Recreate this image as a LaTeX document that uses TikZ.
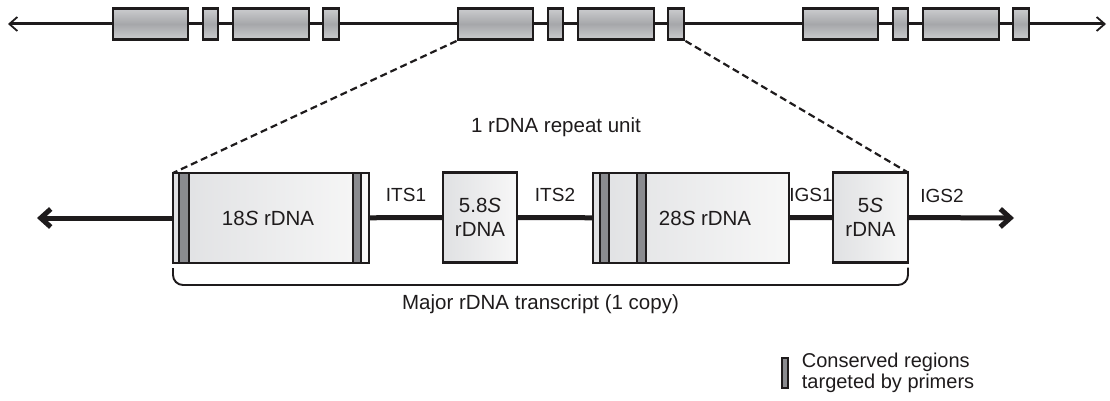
\documentclass[tikz,border=0pt]{standalone}
\usepackage{fontspec}
\setmainfont{Liberation Sans}
\usepackage{tikz}
\usetikzlibrary{arrows.meta,positioning}
\usepackage{xcolor}
\definecolor{rdink}{RGB}{30,27,28}
\definecolor{rdtop}{RGB}{203,204,206}
\definecolor{rdmid}{RGB}{166,167,170}
\definecolor{rdlight}{RGB}{224,225,227}
\definecolor{rdpale}{RGB}{247,247,247}
\definecolor{rdstripe}{RGB}{138,139,143}
\tikzstyle{backbone} = [line width=3pt, color=rdink, {Straight Barb[length=8pt,width=14pt,line width=1.8pt]}-{Straight Barb[length=8pt,width=14pt,line width=1.8pt]}]
\tikzstyle{topbox} = [rectangle, draw=rdink, line width=2.9pt, top color=rdtop, bottom color=rdtop, middle color=rdmid, minimum height=31pt, inner sep=0pt]
\tikzstyle{unitbox} = [rectangle, draw=rdink, line width=2.5pt, left color=rdlight, right color=rdpale, minimum height=90pt, inner sep=0pt, outer sep=0pt, align=center, text=rdink, font=\fontsize{20.5}{24}\selectfont]
\tikzstyle{spacer} = [line width=5pt, color=rdink]
\tikzstyle{arrow} = [spacer, -{Straight Barb[length=10pt,width=18pt]}]
\tikzstyle{primer} = [draw=rdink, fill=rdstripe, line width=1.4pt]
\tikzstyle{zoomline} = [line width=2.2pt, color=rdink, dash pattern=on 7pt off 4pt]
\tikzstyle{bracket} = [line width=1.9pt, color=rdink, rounded corners=10pt]
\tikzstyle{lbl} = [text=rdink, font=\fontsize{20.5}{24}\selectfont, inner sep=0pt]
\tikzstyle{gap} = [text=rdink, font=\fontsize{19}{22}\selectfont, inner sep=0pt]

\begin{document}
\begin{tikzpicture}[x=1pt, y=-1pt]
\useasboundingbox (0,0) rectangle (1110,401);
% Tandem array of repeat units
\coordinate (tl) at (8,24);
\coordinate (tr) at (1106,24);
\draw[backbone] (tl) -- (tr);
\foreach \u in {0,1,2} {
  \node (a\u) [topbox, minimum width=75pt] at ({150.5+345*\u},24) {};
  \node (b\u) [topbox, minimum width=15pt] at ({210.5+345*\u},24) {};
  \node (c\u) [topbox, minimum width=76pt] at ({271+345*\u},24) {};
  \node (d\u) [topbox, minimum width=16pt] at ({331+345*\u},24) {};
}

% One repeat unit
\node (s18) [unitbox, minimum width=196pt] at (271,218) {};
\node (l18) [lbl] at (268,218) {18\textit{S} rDNA};
\node (s58) [unitbox, minimum width=74pt] at (480,217.5) {5.8\textit{S}\\rDNA};
\node (s28) [unitbox, minimum width=196pt] at (691,218) {};
\node (l28) [lbl] at (705,218) {28\textit{S} rDNA};
\node (s5) [unitbox, minimum width=75pt] at (870.5,217.5) {5\textit{S}\\rDNA};

% conserved stripes
\draw[primer] ([xshift=6pt]s18.north west) rectangle ([xshift=16pt]s18.south west);
\draw[primer] ([xshift=-16pt]s18.north east) rectangle ([xshift=-8pt]s18.south east);
\draw[primer] ([xshift=7pt]s28.north west) rectangle ([xshift=16pt]s28.south west);
\draw[primer] ([xshift=44pt]s28.north west) rectangle ([xshift=53pt]s28.south west);

% spacers
\coordinate (larr) at (37,218);
\coordinate (rarr) at (1014,218);
\draw[arrow] (s18.west) -- (larr);
\draw[spacer] (s18) -- node[gap, above=13pt] {ITS1} (s58);
\draw[spacer] (s58) -- node[gap, above=13pt] {ITS2} (s28);
\draw[spacer] (s28) -- node[gap, above=13pt] {IGS1} (s5);
\draw[arrow] (s5.east) -- node[gap, above=12pt, pos=0.32] {IGS2} (rarr);

% zoom lines
\draw[zoomline] (a1.south west) -- (s18.north west);
\draw[zoomline] (d1.south east) -- (s5.north east);
\node (unit) [lbl] at (556,127) {1 rDNA repeat unit};

% transcript bracket
\draw[bracket] ([yshift=-5pt]s18.south west) -- ++(0,17) -| node[lbl, pos=0.25, below=9pt] {Major rDNA transcript (1 copy)} ([yshift=-5pt]s5.south east);

% key
\node (key) [primer, minimum width=6pt, minimum height=30pt, inner sep=0pt] at (785,373) {};
\node (keytext) [lbl, right=13pt of key, align=left, font=\fontsize{20}{20.5}\selectfont] {Conserved regions\\targeted by primers};
\end{tikzpicture}
\end{document}
